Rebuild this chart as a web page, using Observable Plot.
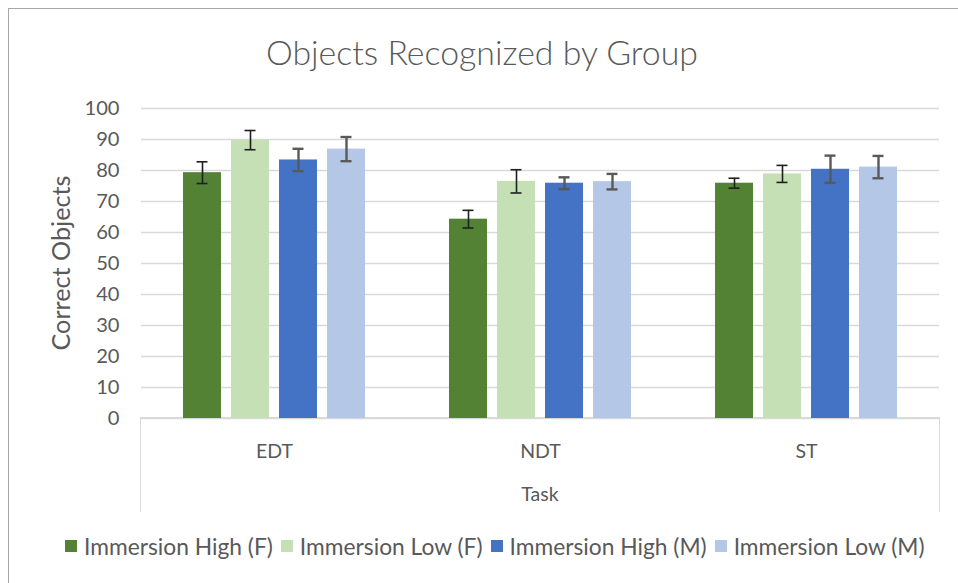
<!DOCTYPE html>
<html>
<head>
<meta charset="utf-8">
<script src="https://cdn.jsdelivr.net/npm/d3@7"></script>
<script src="https://cdn.jsdelivr.net/npm/@observablehq/plot@0.6"></script>
<style>
  html, body { margin: 0; padding: 0; background: #fff; overflow: hidden; }
  #wrap { position: relative; width: 958px; height: 583px; overflow: hidden; font-family: Lato, sans-serif; color: #595959; }
  #frame { position: absolute; left: 8px; top: 8px; width: 1000px; height: 700px; border: 1px solid #a6a6a6; box-sizing: border-box; }
  #chart { position: absolute; left: 0; top: 0; }
  #catbox { position: absolute; left: 140px; top: 417px; width: 800px; height: 95px; border: 1.5px solid #d9d9d9; border-bottom: none; box-sizing: border-box; }
  .txt { position: absolute; white-space: nowrap; line-height: 1.2; }
  #legend { position: absolute; left: 65px; display: flex; align-items: center; line-height: 1.2; white-space: nowrap; }
  .item { display: flex; align-items: center; margin-right: 8px; }
  .sw { width: 12px; height: 12px; margin-right: 7px; }
</style>
</head>
<body>
<div id="wrap">
  <div id="frame"></div>
  <div id="catbox"></div>
  <div id="chart"></div>
  <div id="title" class="txt">Objects Recognized by Group</div>
  <div id="ylabel" class="txt">Correct Objects</div>
  <div id="task" class="txt">Task</div>
  <div id="legend"></div>
</div>
<script>
const tasks = ["EDT", "NDT", "ST"];
const groups = ["Immersion High (F)", "Immersion Low (F)", "Immersion High (M)", "Immersion Low (M)"];
const colors = ["#548235", "#C5E0B4", "#4472C4", "#B4C7E7"];
const edtMeans = [79.3, 89.8, 83.4, 86.9];
const ndtMeans = [64.3, 76.5, 75.9, 76.4];
const stMeans  = [75.9, 78.9, 80.4, 81.1];
const edtErrors = [3.5, 3.1, 3.6, 3.9];
const ndtErrors = [2.85, 3.75, 1.9, 2.5];
const stErrors  = [1.6, 2.75, 4.4, 3.6];
const yTicks = [0, 10, 20, 30, 40, 50, 60, 70, 80, 90, 100];
const titleText = "Objects Recognized by Group";
const yLabelText = "Correct Objects";
const xLabelText = "Task";

const meansByTask = [edtMeans, ndtMeans, stMeans];
const errorsByTask = [edtErrors, ndtErrors, stErrors];
const data = [];
tasks.forEach((t, i) => groups.forEach((g, j) => data.push({
  task: t, group: g, mean: meansByTask[i][j], err: errorsByTask[i][j], female: g.endsWith("(F)")
})));

// font fitting helper (Lato in place of Calibri)
const ctx = document.createElement("canvas").getContext("2d");
function fit(text, target, weight = 400) {
  ctx.font = `${weight} 100px Lato`;
  return 100 * target / ctx.measureText(text).width;
}
const tickFont = fit("100", 35);
const fxFont = fit("EDT", 37);
const titleFont = fit(titleText, 433, 300);
const yLabFont = fit(yLabelText, 175);
const legFont = fit(groups[0], 189);

const fem = data.filter(d => d.female);
const mal = data.filter(d => !d.female);
const errMarks = (arr, stroke, sw) => [
  Plot.ruleX(arr, {fx: "task", x: "group", y1: d => d.mean - d.err, y2: d => d.mean + d.err, stroke, strokeWidth: sw}),
  Plot.tickY(arr, {fx: "task", x: "group", y: d => d.mean + d.err, stroke, strokeWidth: sw, insetLeft: 13.5, insetRight: 13.5}),
  Plot.tickY(arr, {fx: "task", x: "group", y: d => d.mean - d.err, stroke, strokeWidth: sw, insetLeft: 13.5, insetRight: 13.5})
];

const fxPad = 32 - 0.35 * fxFont;
const chart = Plot.plot({
  width: 958, height: 583,
  marginLeft: 140, marginRight: 18, marginTop: 108, marginBottom: 165,
  style: {background: "transparent", fontFamily: "Lato, sans-serif", color: "#595959", overflow: "visible"},
  fx: {domain: tasks, padding: 0, label: null},
  x: {domain: groups, paddingInner: 0.2, paddingOuter: 0.85, axis: null},
  y: {domain: [0, 100], label: null},
  color: {domain: groups, range: colors},
  marks: [
    Plot.gridY(yTicks, {stroke: "#d9d9d9", strokeOpacity: 1, strokeWidth: 1.5}),
    Plot.axisY(yTicks, {tickSize: 0, tickPadding: 22, label: null, fontSize: tickFont, tickFormat: d => String(d)}),
    Plot.axisFx({anchor: "bottom", tickSize: 0, tickPadding: fxPad, label: null, fontSize: fxFont}),
    Plot.barY(data, {fx: "task", x: "group", y: "mean", fill: "group"}),
    ...errMarks(fem, "#1f1f1f", 1.6),
    ...errMarks(mal, "#595959", 2.4)
  ]
});
document.getElementById("chart").appendChild(chart);

function place(id, size, weight, cx, cy, rotate) {
  const el = document.getElementById(id);
  el.style.fontSize = size + "px";
  el.style.fontWeight = weight;
  el.style.left = cx + "px";
  el.style.top = (cy - 0.03 * size) + "px";
  el.style.transform = `translate(-50%, -50%)${rotate ? " rotate(-90deg)" : ""}`;
}
place("title", titleFont, 300, 482, 53, false);
place("ylabel", yLabFont, 400, 60, 264, true);
place("task", fxFont, 400, 540, 495, false);

const legend = document.getElementById("legend");
legend.style.fontSize = legFont + "px";
legend.style.top = (547 - 0.6 * legFont - 0.03 * legFont) + "px";
groups.forEach((g, i) => {
  const item = document.createElement("div");
  item.className = "item";
  const sw = document.createElement("div");
  sw.className = "sw";
  sw.style.background = colors[i];
  const lab = document.createElement("span");
  lab.textContent = g;
  item.appendChild(sw);
  item.appendChild(lab);
  legend.appendChild(item);
});
</script>
</body>
</html>
